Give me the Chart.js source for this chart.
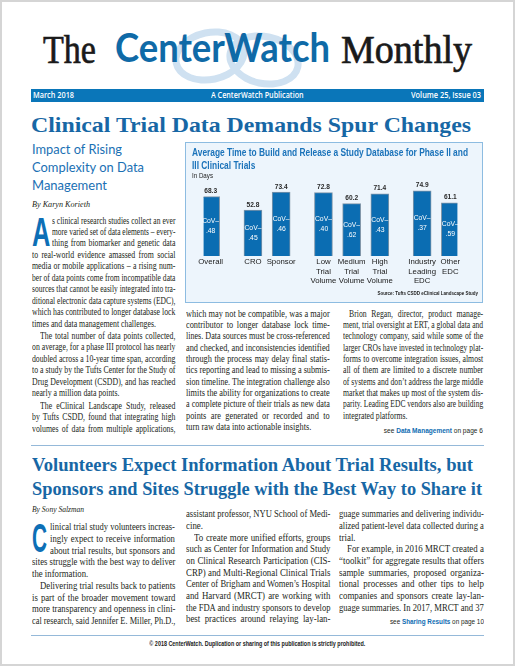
<!DOCTYPE html>
<html>
<head>
<meta charset="utf-8">
<script src="https://cdn.jsdelivr.net/npm/chart.js@4.4.1/dist/chart.umd.min.js"></script>
<style>
html, body { margin: 0; padding: 0; background: #fff; }
#page { position: relative; width: 515px; height: 666px; overflow: hidden; background: #fff; }
#frame { position: absolute; left: 0; top: 0; right: 0; bottom: 0; border: 2px solid #d5d5d5; pointer-events: none; z-index: 5; }
.swirl { position: absolute; border: 7px solid #cfe1f1; border-radius: 50%; }
#bar { position: absolute; left: 31px; top: 89px; width: 453px; height: 12.5px; background: #0a76b9; }
.rule { position: absolute; left: 31px; width: 453px; height: 1.3px; background: #95b9d9; }
#chartBox { position: absolute; left: 185px; top: 142px; width: 298px; height: 161px; box-sizing: border-box; border: 1px solid #8dbce1; background: #edf5fc; }
#chartWrap { position: absolute; left: 0; top: 0; width: 296px; height: 159px; }
</style>
</head>
<body>
<div id="page">
  <div class="swirl" style="left:172px;top:29px;width:62px;height:40px;transform:rotate(-12deg);"></div>
  <div class="swirl" style="left:226px;top:33px;width:62px;height:40px;transform:rotate(12deg);"></div>
  <div id="bar"></div>
  <div class="rule" style="top:445px;"></div>
  <div class="rule" style="top:634.5px;"></div>
  <div id="chartBox"><div id="chartWrap"><canvas id="chart"></canvas></div></div>
  <div id="frame"></div>
</div>
<script>
// Chart data
const categories = [['Overall'], ['CRO'], ['Sponsor'], ['Low', 'Trial', 'Volume'], ['Medium', 'Trial', 'Volume'], ['High', 'Trial', 'Volume'], ['Industry', 'Leading', 'EDC'], ['Other', 'EDC']];
const groupOf = [0, 1, 1, 2, 2, 2, 3, 3];
const avgDays = [68.3, 52.8, 73.4, 72.8, 60.2, 71.4, 74.9, 61.1];
const covText = ['.48', '.45', '.46', '.40', '.62', '.43', '.37', '.59'];
const yMax = 80;
const chartTitle = ['Average Time to Build and Release a Study Database for Phase II and', 'III Clinical Trials'];
const unitText = 'In Days';
const sourceText = 'Source: Tufts CSDD eClinical Landscape Study';

// Article text, one entry per printed line ("\t" = indented paragraph start, "\n" = paragraph end)
const art1Left = [
    's clinical research studies collect an ever',
    'more varied set of data elements – every-',
    'thing from biomarker and genetic data',
    'to real-world evidence amassed from social',
    'media or mobile applications – a rising num-',
    'ber of data points come from incompatible data',
    'sources that cannot be easily integrated into tra-',
    'ditional electronic data capture systems (EDC),',
    'which has contributed to longer database lock',
    'times and data management challenges.\n',
    '\tThe total number of data points collected,',
    'on average, for a phase III protocol has nearly',
    'doubled across a 10-year time span, according',
    'to a study by the Tufts Center for the Study of',
    'Drug Development (CSDD), and has reached',
    'nearly a million data points.\n',
    '\tThe eClinical Landscape Study, released',
    'by Tufts CSDD, found that integrating high',
    'volumes of data from multiple applications,'
];
const art1Mid = [
    'which may not be compatible, was a major',
    'contributor to longer database lock time-',
    'lines. Data sources must be cross-referenced',
    'and checked, and inconsistencies identified',
    'through the process may delay final statis-',
    'tics reporting and lead to missing a submis-',
    'sion timeline. The integration challenge also',
    'limits the ability for organizations to create',
    'a complete picture of their trials as new data',
    'points are generated or recorded and to',
    'turn raw data into actionable insights.\n'
];
const art1Right = [
    '\tBrion Regan, director, product manage-',
    'ment, trial oversight at ERT, a global data and',
    'technology company, said while some of the',
    'larger CROs have invested in technology plat-',
    'forms to overcome integration issues, almost',
    'all of them are limited to a discrete number',
    'of systems and don’t address the large middle',
    'market that makes up most of the system dis-',
    'parity. Leading EDC vendors also are building',
    'integrated platforms.\n'
];
const art2Left = [
    'linical trial study volunteers increas-',
    'ingly expect to receive information',
    'about trial results, but sponsors and',
    'sites struggle with the best way to deliver',
    'the information.\n',
    '\tDelivering trial results back to patients',
    'is part of the broader movement toward',
    'more transparency and openness in clini-',
    'cal research, said Jennifer E. Miller, Ph.D.,'
];
const art2Mid = [
    'assistant professor, NYU School of Medi-',
    'cine.\n',
    '\tTo create more unified efforts, groups',
    'such as Center for Information and Study',
    'on Clinical Research Participation (CIS-',
    'CRP) and Multi-Regional Clinical Trials',
    'Center of Brigham and Women’s Hospital',
    'and Harvard (MRCT) are working with',
    'the FDA and industry sponsors to develop',
    'best practices around relaying lay-lan-'
];
const art2Right = [
    'guage summaries and delivering individu-',
    'alized patient-level data collected during a',
    'trial.\n',
    '\tFor example, in 2016 MRCT created a',
    '“toolkit” for aggregate results that offers',
    'sample summaries, proposed organiza-',
    'tional processes and other tips to help',
    'companies and sponsors create lay-lan-',
    'guage summaries. In 2017, MRCT and 37'
];

const page = document.getElementById('page');
const SERIF = "'Liberation Serif'";
const SANS = "'Liberation Sans'";
const BLUE = '#1767a5';
const INK = '#231f20';

function makeDiv(html, css) {
    const d = document.createElement('div');
    d.innerHTML = html;
    Object.assign(d.style, { position: 'absolute', whiteSpace: 'nowrap' }, css);
    page.insertBefore(d, document.getElementById('frame'));
    return d;
}

// single line squeezed/stretched to a measured width
function fitLine(html, o) {
    const size = o.size;
    const lhf = o.lh || 1;
    const d = makeDiv(html, {
        font: `${o.style || 'normal'} ${o.weight || 400} ${size}px ${o.family}`,
        lineHeight: (size * lhf) + 'px',
        color: o.color || INK,
        left: '0px',
        top: '0px'
    });
    if (o.stroke) d.style.webkitTextStroke = o.stroke;
    const nat = d.getBoundingClientRect().width;
    const s = o.w / nat;
    const align = o.align || 'left';
    let left = o.x;
    if (align === 'right') left = o.x - nat;
    if (align === 'center') left = o.x - nat / 2;
    d.style.left = left + 'px';
    d.style.top = (o.cy - (o.mid ?? 0.5) * size) + 'px';
    d.style.transformOrigin = align === 'right' ? '100% 0' : align === 'center' ? '50% 0' : '0 0';
    d.style.transform = `scaleX(${s})`;
    return d;
}

// justified column, each printed line kept as is
function column(lines, o) {
    let y = o.cy;
    const items = [];
    const ratios = [];
    lines.forEach((raw, i) => {
        const indented = raw.startsWith('\t');
        const end = raw.endsWith('\n');
        const text = raw.trim();
        if (indented && i > 0) y += o.paraGap;
        const lead = (i < (o.drop || 0) ? o.dropW : 0) + (indented ? o.indent : 0);
        const d = makeDiv(text, {
            font: `400 ${o.size}px ${SERIF}`,
            lineHeight: o.lh + 'px',
            color: INK,
            left: (o.x + lead) + 'px',
            top: (y - o.lh / 2 - 0.11 * o.size) + 'px'
        });
        const nat = d.getBoundingClientRect().width;
        const avail = o.w - lead;
        items.push({ d, nat, avail, end });
        if (!end) ratios.push(avail / nat);
        y += o.lh;
    });
    ratios.sort((a, b) => a - b);
    const base = ratios[Math.floor(ratios.length / 2)];
    items.forEach(e => {
        const s = Math.min(base, e.avail / e.nat);
        e.d.style.transformOrigin = '0 0';
        e.d.style.transform = `scaleX(${s})`;
        if (!e.end) {
            e.d.style.whiteSpace = 'normal';
            e.d.style.width = (e.avail / s + 0.2) + 'px';
            e.d.style.textAlign = 'justify';
            e.d.style.textAlignLast = 'justify';
        }
    });
}

// Masthead
const mastSerif = { size: 41, family: SERIF, color: '#1a1a1a', mid: 0.506, cy: 49.5, stroke: '0.7px #1a1a1a' };
fitLine('The', { ...mastSerif, x: 43.3, w: 53 });
fitLine('CenterWatch', { x: 115, w: 215, cy: 48.5, size: 40, family: 'Lato', weight: 700, color: '#0f6aa7', mid: 0.528 });
fitLine('Monthly', { ...mastSerif, x: 340.7, w: 131 });

// Header bar
const barFont = { size: 8, family: "'Open Sans'", weight: 600, color: '#fff', mid: 0.53, cy: 95.5 };
fitLine('March 2018', { ...barFont, x: 33.3, w: 41 });
fitLine('A CenterWatch Publication', { ...barFont, x: 210.7, w: 92.6 });
fitLine('Volume 25, Issue 03', { ...barFont, x: 411, w: 70 });

// Lead story
fitLine('Clinical Trial Data Demands Spur Changes', { x: 31, w: 440, cy: 125, size: 22, family: SERIF, weight: 700, color: BLUE, mid: 0.506 });
const subFont = { size: 14, family: 'Lato', color: '#1a70b4', mid: 0.528, x: 31.7 };
fitLine('Impact of Rising', { ...subFont, cy: 149, w: 90 });
fitLine('Complexity on Data', { ...subFont, cy: 167.3, w: 112 });
fitLine('Management', { ...subFont, cy: 185, w: 75 });
fitLine('By Karyn Korieth', { x: 31.7, w: 58, cy: 204.3, size: 8.5, family: SERIF, style: 'italic', mid: 0.55 });
// drop caps: tight line box (0.75em) so it does not run into the next lines
fitLine('A', { x: 31.7, w: 18.3, cy: 231.5, size: 40.5, lh: 0.75, family: SANS, weight: 700, color: '#0d6fb6', mid: 0.3635 });

column(art1Left, { x: 31.7, w: 143.3, cy: 222.3, lh: 11.45, size: 9.4, indent: 8, paraGap: 1, drop: 3, dropW: 20 });
column(art1Mid, { x: 185.7, w: 143.6, cy: 315.3, lh: 11.34, size: 9.4, indent: 8, paraGap: 1 });
column(art1Right, { x: 343.3, w: 140, cy: 315.3, lh: 11.34, size: 9.4, indent: 6, paraGap: 1 });
fitLine('see <b style="color:#0e6cb2">Data Management</b> on page 6', { x: 483.3, w: 99, cy: 431.3, size: 7.5, family: SANS, align: 'right', mid: 0.55 });

// Second story
fitLine('Volunteers Expect Information About Trial Results, but', { x: 31.7, w: 441, cy: 464.5, size: 19, family: SERIF, weight: 700, color: BLUE, mid: 0.506 });
fitLine('Sponsors and Sites Struggle with the Best Way to Share it', { x: 31.7, w: 450, cy: 488.3, size: 19, family: SERIF, weight: 700, color: BLUE, mid: 0.506 });
fitLine('By Sony Salzman', { x: 31.7, w: 52, cy: 510, size: 8, family: SERIF, style: 'italic', mid: 0.55 });
fitLine('C', { x: 31.7, w: 15, cy: 538, size: 40, lh: 0.75, family: SANS, weight: 700, color: '#0d6fb6', mid: 0.3635 });

column(art2Left, { x: 31.7, w: 143.3, cy: 528.3, lh: 11.6, size: 9.8, indent: 8, paraGap: 0.8, drop: 3, dropW: 18.5 });
column(art2Mid, { x: 185.7, w: 144.3, cy: 515.3, lh: 11.65, size: 9.8, indent: 8, paraGap: 0 });
column(art2Right, { x: 339.3, w: 144.7, cy: 515.3, lh: 11.65, size: 9.8, indent: 8, paraGap: 0 });
fitLine('see <b style="color:#0e6cb2">Sharing Results</b> on page 10', { x: 484, w: 94, cy: 621.7, size: 7.5, family: SANS, align: 'right', mid: 0.55 });

fitLine('© 2018 CenterWatch. Duplication or sharing of this publication is strictly prohibited.', { x: 257.8, w: 216, cy: 644, size: 7, family: SANS, weight: 700, color: '#222', align: 'center', mid: 0.55 });

// Chart: categories sit in half-width slots so the groups get wider gaps
const slotCount = (categories.length - 1) * 2 + groupOf[groupOf.length - 1] + 1;
const slotLabels = new Array(slotCount).fill('');
const slotDays = new Array(slotCount).fill(null);
const slotCov = new Array(slotCount).fill(null);
categories.forEach((c, i) => {
    const s = i * 2 + groupOf[i];
    slotLabels[s] = c;
    slotDays[s] = avgDays[i];
    slotCov[s] = covText[i];
});

function drawFitted(ctx, text, x, y, opts) {
    ctx.save();
    ctx.font = opts.font;
    ctx.fillStyle = opts.color;
    ctx.textBaseline = 'middle';
    ctx.textAlign = opts.align || 'left';
    const nat = ctx.measureText(text).width;
    const sx = opts.scale || (opts.width ? opts.width / nat : 1);
    ctx.translate(x, y);
    ctx.scale(sx, 1);
    ctx.fillText(text, 0, 0);
    ctx.restore();
    return sx;
}

const chartText = {
    id: 'chartText',
    afterDraw(chart) {
        const ctx = chart.ctx;
        const titleFont = { font: `bold 10px ${SANS}`, color: '#1b73ba' };
        const sx = drawFitted(ctx, chartTitle[0], 6, 10.5, { ...titleFont, width: 276 });
        drawFitted(ctx, chartTitle[1], 6, 23.5, { ...titleFont, scale: sx });
        drawFitted(ctx, unitText, 6, 33, { font: `7px ${SANS}`, color: '#222', width: 21 });
        drawFitted(ctx, sourceText, 292, 150.5, { font: `bold 5.6px ${SANS}`, color: '#222', width: 100.6, align: 'right' });
    }
};

const barText = {
    id: 'barText',
    afterDatasetsDraw(chart) {
        const ctx = chart.ctx;
        const meta = chart.getDatasetMeta(0);
        meta.data.forEach((bar, i) => {
            if (slotDays[i] == null) return;
            ctx.save();
            ctx.textAlign = 'center';
            ctx.textBaseline = 'middle';
            ctx.fillStyle = '#2a2a2a';
            ctx.font = `bold 6.6px ${SANS}`;
            ctx.fillText(slotDays[i].toFixed(1), bar.x, bar.y - 5.3);
            const mid = (bar.y + bar.base) / 2;
            ctx.fillStyle = '#ffffff';
            ctx.font = `6.8px ${SANS}`;
            ctx.fillText('CoV–', bar.x, mid - 5);
            ctx.fillText(slotCov[i], bar.x, mid + 5);
            ctx.restore();
        });
    }
};

new Chart(document.getElementById('chart'), {
    type: 'bar',
    data: {
        labels: slotLabels,
        datasets: [{
            data: slotDays,
            backgroundColor: '#0b6db2',
            borderColor: '#7f95a8',
            borderWidth: 1,
            barThickness: 18
        }]
    },
    options: {
        responsive: true,
        maintainAspectRatio: false,
        animation: false,
        layout: { padding: { left: 17.6, right: 24.6, top: 43.4, bottom: 0 } },
        plugins: {
            legend: { display: false },
            tooltip: { enabled: false },
            title: { display: false }
        },
        scales: {
            x: {
                type: 'category',
                offset: true,
                grid: { display: false, drawTicks: false },
                border: { display: false },
                ticks: {
                    autoSkip: false,
                    maxRotation: 0,
                    minRotation: 0,
                    padding: 1.5,
                    color: '#1a1a1a',
                    font: { family: 'Liberation Sans', size: 7.8, lineHeight: 1.19 }
                },
                afterFit(scale) { scale.height = 46; }
            },
            y: {
                display: false,
                min: 0,
                max: yMax
            }
        }
    },
    plugins: [chartText, barText]
});
</script>
</body>
</html>
